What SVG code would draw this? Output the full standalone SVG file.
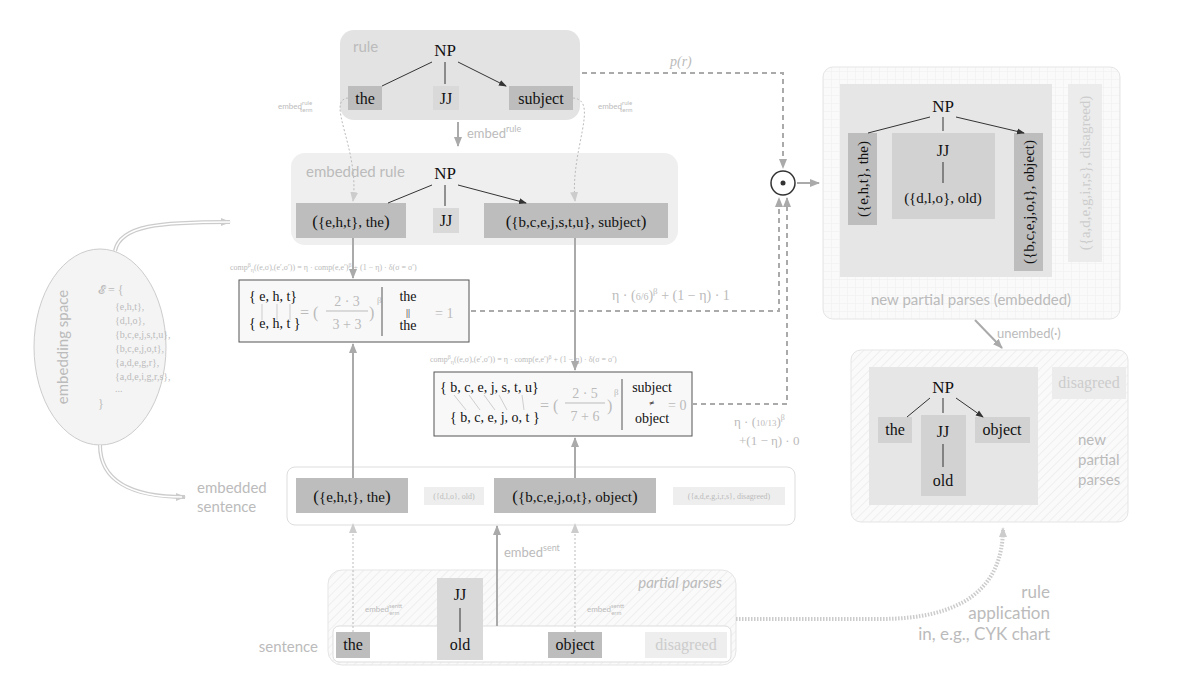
<svg xmlns="http://www.w3.org/2000/svg" width="1200" height="688" viewBox="0 0 1200 688">
<defs>
<marker id="ah" markerWidth="8" markerHeight="8" refX="7" refY="4" orient="auto" markerUnits="userSpaceOnUse"><path d="M0,1 L8,4 L0,7 z" fill="#333"/></marker>
<marker id="ag" markerWidth="10" markerHeight="10" refX="9" refY="5" orient="auto" markerUnits="userSpaceOnUse"><path d="M0,1 L10,5 L0,9 z" fill="#aaa"/></marker>
<marker id="agl" markerWidth="10" markerHeight="10" refX="9" refY="5" orient="auto" markerUnits="userSpaceOnUse"><path d="M0,1 L10,5 L0,9 z" fill="#ccc"/></marker>
<pattern id="hatch" width="6" height="6" patternUnits="userSpaceOnUse" patternTransform="rotate(45)"><rect width="6" height="6" fill="#fafafa"/><line x1="0" y1="0" x2="0" y2="6" stroke="#ececec" stroke-width="1.5"/></pattern>
<pattern id="grid" width="8" height="8" patternUnits="userSpaceOnUse"><rect width="8" height="8" fill="#fafafa"/><path d="M8,0 V8 M0,8 H8" stroke="#eeeeee" stroke-width="1"/></pattern>
</defs>
<style>
.s{font-family:"Liberation Serif","DejaVu Serif",serif;fill:#111}
.l{font-family:Lato,"Open Sans",sans-serif;fill:#bbb}
.g{font-family:"Liberation Serif",serif;fill:#bbb}
.dk{fill:#bdbdbd}.md{fill:#d6d6d6}.lt{fill:#ececec}
.edge{stroke:#333;stroke-width:1;fill:none;marker-end:url(#ah)}
.gl{stroke:#aaa;stroke-width:2;fill:none}
.dash{stroke:#aaa;stroke-width:2;fill:none;stroke-dasharray:5,4}
.dot{stroke:#bbb;stroke-width:1;fill:none;stroke-dasharray:2,2}
</style>
<rect width="1200" height="688" fill="#fff"/>

<g id="rule">
<rect x="340" y="30" width="240" height="90" rx="14" fill="#e3e3e3"/>
<text class="l" x="353" y="52" font-size="15">rule</text>
<text class="s" x="445" y="56" font-size="17" text-anchor="middle">NP</text>
<rect class="dk" x="348" y="86" width="34" height="24"/><text class="s" x="365" y="104" font-size="16" text-anchor="middle">the</text>
<rect x="433" y="86" width="26" height="24" fill="#d9d9d9"/><text class="s" x="446" y="104" font-size="16" text-anchor="middle">JJ</text>
<rect class="dk" x="509" y="86" width="64" height="24"/><text class="s" x="541" y="104" font-size="16" text-anchor="middle">subject</text>
</g>

<g id="embedded-rule">
<rect x="291" y="153" width="387" height="92" rx="14" fill="#efefef"/>
<text class="l" x="306" y="177" font-size="15">embedded rule</text>
<text class="s" x="445" y="179" font-size="17" text-anchor="middle">NP</text>
<rect class="dk" x="296" y="203" width="110" height="35"/><text class="s" x="351" y="227" font-size="17" text-anchor="middle">(<tspan font-size="15">{e,h,t}, the</tspan>)</text>
<rect x="433" y="208" width="26" height="25" fill="#d9d9d9"/><text class="s" x="446" y="226" font-size="16" text-anchor="middle">JJ</text>
<rect class="dk" x="484" y="203" width="184" height="35"/><text class="s" x="576" y="227" font-size="17" text-anchor="middle">(<tspan font-size="15">{b,c,e,j,s,t,u}, subject</tspan>)</text>
</g>

<g id="comp1">
<text class="g" x="230" y="270" font-size="8">comp<tspan font-size="6" dy="-3">β</tspan><tspan font-size="6" dy="5">η</tspan><tspan dy="-2">((e,σ),(e′,σ′)) = η · comp(e,e′)</tspan><tspan font-size="6" dy="-3">β</tspan><tspan dy="3"> + (1 − η) · δ(σ = σ′)</tspan></text>
<rect x="239" y="280" width="230" height="62" fill="#f8f8f8" stroke="#555" stroke-width="1"/>
<text class="s" x="249" y="301" font-size="14">{ e, h, t}</text>
<text class="s" x="249" y="328" font-size="14">{ e, h, t }</text>
<path d="M262,304 V320 M277,304 V320 M290,304 V320" stroke="#bbb" stroke-width="0.7"/>
<text class="g" x="300" y="318" font-size="16">= (</text>
<text class="g" x="347" y="306" font-size="14" text-anchor="middle">2 · 3</text>
<line x1="326" y1="311" x2="368" y2="311" stroke="#bbb"/>
<text class="g" x="347" y="329" font-size="14" text-anchor="middle">3 + 3</text>
<text class="g" x="369" y="318" font-size="16">)</text><text class="g" x="377" y="303" font-size="9">β</text>
<line x1="382" y1="287" x2="382" y2="336" stroke="#555"/>
<text class="s" x="408" y="301" font-size="14" text-anchor="middle">the</text>
<text class="s" x="408" y="316" font-size="10" text-anchor="middle">||</text>
<text class="s" x="408" y="330" font-size="14" text-anchor="middle">the</text>
<text class="g" x="435" y="318" font-size="14">= 1</text>
</g>

<g id="comp2">
<text class="g" x="430" y="362" font-size="8">comp<tspan font-size="6" dy="-3">β</tspan><tspan font-size="6" dy="5">η</tspan><tspan dy="-2">((e,σ),(e′,σ′)) = η · comp(e,e′)</tspan><tspan font-size="6" dy="-3">β</tspan><tspan dy="3"> + (1 − η) · δ(σ = σ′)</tspan></text>
<rect x="434" y="372" width="258" height="64" fill="#f8f8f8" stroke="#555" stroke-width="1"/>
<text class="s" x="440" y="392" font-size="14">{ b, c, e, j, s, t, u}</text>
<text class="s" x="450" y="422" font-size="14">{ b, c, e, j, o, t }</text>
<path d="M454,395 L466,410 M469,395 L480,410 M484,395 L495,410 M499,395 L507,410 M522,395 L524,410" stroke="#bbb" stroke-width="0.7"/>
<text class="g" x="540" y="411" font-size="16">= (</text>
<text class="g" x="585" y="398" font-size="14" text-anchor="middle">2 · 5</text>
<line x1="565" y1="403" x2="605" y2="403" stroke="#bbb"/>
<text class="g" x="585" y="421" font-size="14" text-anchor="middle">7 + 6</text>
<text class="g" x="607" y="411" font-size="16">)</text><text class="g" x="614" y="395" font-size="9">β</text>
<line x1="622" y1="379" x2="622" y2="430" stroke="#555"/>
<text class="s" x="652" y="392" font-size="14" text-anchor="middle">subject</text>
<text class="s" x="652" y="406" font-size="9" text-anchor="middle">≠</text>
<text class="s" x="652" y="423" font-size="14" text-anchor="middle">object</text>
<text class="g" x="668" y="410" font-size="14">= 0</text>
</g>

<g id="embedded-sentence">
<rect x="287" y="467" width="508" height="58" rx="8" fill="#fff" stroke="#ddd"/>
<rect class="dk" x="296" y="478" width="112" height="35"/><text class="s" x="352" y="502" font-size="17" text-anchor="middle">(<tspan font-size="15">{e,h,t}, the</tspan>)</text>
<rect x="424" y="487" width="60" height="18" fill="#eee"/><text class="g" x="454" y="499" font-size="8" text-anchor="middle">({d,l,o}, old)</text>
<rect class="dk" x="494" y="478" width="162" height="35"/><text class="s" x="575" y="502" font-size="17" text-anchor="middle">(<tspan font-size="15">{b,c,e,j,o,t}, object</tspan>)</text>
<rect x="673" y="487" width="112" height="18" fill="#eee"/><text class="g" x="729" y="499" font-size="8" text-anchor="middle">({a,d,e,g,i,r,s}, disagreed)</text>
<text class="l" x="197" y="493" font-size="15">embedded</text>
<text class="l" x="197" y="512" font-size="15">sentence</text>
</g>

<g id="partial-parses">
<rect x="328" y="570" width="408" height="95" rx="14" fill="url(#hatch)" stroke="#e5e5e5"/>
<text class="l" x="722" y="588" font-size="15" font-style="italic" text-anchor="end">partial parses</text>
<rect x="333" y="626" width="398" height="36" rx="6" fill="#fff" stroke="#ddd"/>
<rect class="dk" x="336" y="632" width="34" height="26"/><text class="s" x="353" y="650" font-size="16" text-anchor="middle">the</text>
<rect x="437" y="578" width="46" height="82" fill="#d9d9d9"/><text class="s" x="460" y="600" font-size="16" text-anchor="middle">JJ</text>
<line x1="460" y1="608" x2="460" y2="632" stroke="#333"/>
<text class="s" x="460" y="650" font-size="16" text-anchor="middle">old</text>
<rect class="dk" x="548" y="632" width="54" height="26"/><text class="s" x="575" y="650" font-size="16" text-anchor="middle">object</text>
<rect x="645" y="632" width="82" height="26" fill="#eee"/><text x="686" y="650" font-size="16" text-anchor="middle" font-family="Liberation Serif,serif" fill="#ccc">disagreed</text>
<text class="l" x="318" y="652" font-size="15" text-anchor="end">sentence</text>
</g>

<g id="embedding-space">
<ellipse cx="100" cy="347" rx="66" ry="98" fill="#f4f4f4" stroke="#ccc"/>
<text class="g" x="98" y="294" font-size="12">𝓔 = {</text>
<text class="g" x="115" y="310" font-size="10">{e,h,t},</text>
<text class="g" x="115" y="324" font-size="10">{d,l,o},</text>
<text class="g" x="115" y="338" font-size="10">{b,c,e,j,s,t,u},</text>
<text class="g" x="115" y="352" font-size="10">{b,c,e,j,o,t},</text>
<text class="g" x="115" y="366" font-size="10">{a,d,e,g,r},</text>
<text class="g" x="115" y="380" font-size="10">{a,d,e,i,g,r,s},</text>
<text class="g" x="115" y="392" font-size="10">...</text>
<text class="g" x="98" y="408" font-size="12">}</text>
<text class="l" x="68" y="347" font-size="15" text-anchor="middle" transform="rotate(-90 68 347)">embedding space</text>
</g>

<g id="odot">
<circle cx="783" cy="183" r="12" fill="#fff" stroke="#333" stroke-width="1.5"/>
<circle cx="783" cy="183" r="2.5" fill="#333"/>
</g>

<g id="new-embedded">
<rect x="823" y="67" width="297" height="252" rx="10" fill="url(#grid)" stroke="#e5e5e5"/>
<rect x="840" y="84" width="212" height="193" fill="#e6e6e6"/>
<text class="s" x="943" y="112" font-size="17" text-anchor="middle">NP</text>
<rect class="dk" x="848" y="133" width="29" height="92"/><text class="s" x="868" y="179" font-size="15" text-anchor="middle" transform="rotate(-90 868 179)">({e,h,t}, the)</text>
<rect x="892" y="133" width="103" height="86" fill="#d2d2d2"/><text class="s" x="943" y="156" font-size="16" text-anchor="middle">JJ</text>
<line x1="943" y1="162" x2="943" y2="183" stroke="#333"/>
<text class="s" x="943" y="203" font-size="15" text-anchor="middle">({d,l,o}, old)</text>
<rect class="dk" x="1014" y="133" width="29" height="138"/><text class="s" x="1034" y="202" font-size="15" text-anchor="middle" transform="rotate(-90 1034 202)">({b,c,e,j,o,t}, object)</text>
<rect x="1068" y="84" width="34" height="178" fill="#ececec"/><text x="1090" y="173" font-size="15" text-anchor="middle" font-family="Liberation Serif,serif" fill="#ccc" transform="rotate(-90 1090 173)">({a,d,e,g,i,r,s}, disagreed)</text>
<text class="l" x="971" y="305" font-size="15" text-anchor="middle">new partial parses (embedded)</text>
</g>

<g id="new-parses">
<rect x="851" y="350" width="277" height="172" rx="10" fill="url(#hatch)" stroke="#e5e5e5"/>
<rect x="869" y="367" width="169" height="138" fill="#e6e6e6"/>
<text class="s" x="943" y="393" font-size="17" text-anchor="middle">NP</text>
<rect x="878" y="417" width="34" height="26" fill="#d2d2d2"/><text class="s" x="895" y="435" font-size="16" text-anchor="middle">the</text>
<rect x="921" y="415" width="45" height="81" fill="#d2d2d2"/><text class="s" x="943" y="437" font-size="16" text-anchor="middle">JJ</text>
<line x1="943" y1="444" x2="943" y2="467" stroke="#333"/>
<text class="s" x="943" y="486" font-size="16" text-anchor="middle">old</text>
<rect x="975" y="417" width="55" height="26" fill="#d2d2d2"/><text class="s" x="1002" y="435" font-size="16" text-anchor="middle">object</text>
<rect x="1052" y="367" width="74" height="32" fill="#ececec"/><text x="1089" y="388" font-size="16" text-anchor="middle" font-family="Liberation Serif,serif" fill="#ccc">disagreed</text>
<text class="l" x="1078" y="445" font-size="15">new</text>
<text class="l" x="1078" y="465" font-size="15">partial</text>
<text class="l" x="1078" y="485" font-size="15">parses</text>
</g>

<g id="connectors">
<!-- rule trees -->
<path class="edge" d="M432,62 L382,86 M445,62 L445,84 M458,62 L506,86"/>
<path class="edge" d="M432,185 L388,203 M445,185 L445,206 M458,185 L526,203"/>
<path class="edge" d="M930,117 L868,133 M943,117 L943,131 M956,117 L1024,133"/>
<path class="edge" d="M930,398 L907,417 M943,398 L943,413 M956,398 L983,417"/>
<!-- embed rule -->
<path class="gl" d="M458,122 V146" marker-end="url(#ag)"/>
<text class="l" x="467" y="138" font-size="13">embed<tspan font-size="9" dy="-6">rule</tspan></text>
<!-- embed term rule dotted -->
<path class="dot" d="M348,98 C325,100 360,150 353,201" marker-end="url(#agl)"/>
<path class="dot" d="M573,98 C600,100 570,150 575,201" marker-end="url(#agl)"/>
<text class="l" x="278" y="109" font-size="8">embed<tspan font-size="6" dy="-4">rule</tspan><tspan font-size="6" dx="-12" dy="7">term</tspan></text>
<text class="l" x="598" y="109" font-size="8">embed<tspan font-size="6" dy="-4">rule</tspan><tspan font-size="6" dx="-12" dy="7">term</tspan></text>
<!-- verticals -->
<path class="gl" d="M353,238 V278" marker-end="url(#ag)"/>
<path class="gl" d="M353,478 V344" marker-end="url(#ag)"/>
<path class="gl" d="M575,238 V370" marker-end="url(#ag)"/>
<path class="gl" d="M575,478 V438" marker-end="url(#ag)"/>
<!-- sentence up -->
<path class="dot" d="M353,632 V524" marker-end="url(#agl)"/>
<path class="dot" d="M575,632 V524" marker-end="url(#agl)"/>
<path class="gl" d="M497,626 V526" marker-end="url(#ag)"/>
<text class="l" x="504" y="557" font-size="13">embed<tspan font-size="9" dy="-6">sent</tspan></text>
<text class="l" x="365" y="612" font-size="8">embed<tspan font-size="6" dy="-4">sent</tspan><tspan font-size="6" dx="-13" dy="7">term</tspan></text>
<text class="l" x="587" y="612" font-size="8">embed<tspan font-size="6" dy="-4">sent</tspan><tspan font-size="6" dx="-13" dy="7">term</tspan></text>
<!-- embedding space curves -->
<path d="M115,251 C120,225 160,222 230,222" stroke="#ccc" stroke-width="4" fill="none" marker-end="url(#agl)"/>
<path d="M115,251 C120,225 160,222 230,222" stroke="#fff" stroke-width="1.5" fill="none"/>
<path d="M100,445 C100,480 130,497 185,497" stroke="#ccc" stroke-width="4" fill="none" marker-end="url(#agl)"/>
<path d="M100,445 C100,480 130,497 182,497" stroke="#fff" stroke-width="1.5" fill="none"/>
<!-- dashed to odot -->
<path class="dash" d="M582,73 H783 V168" marker-end="url(#ag)"/>
<text class="g" x="670" y="66" font-size="14" font-style="italic">p(r)</text>
<path class="dash" d="M471,311 H779 V198" marker-end="url(#ag)"/>
<text class="g" x="612" y="300" font-size="14">η · (<tspan font-size="10">6/6</tspan>)<tspan font-size="9" dy="-6">β</tspan><tspan dy="6"> + (1 − η) · 1</tspan></text>
<path class="dash" d="M692,404 H787 V198" marker-end="url(#ag)"/>
<text class="g" x="734" y="426" font-size="13">η · (<tspan font-size="9">10/13</tspan>)<tspan font-size="8" dy="-6">β</tspan></text>
<text class="g" x="739" y="445" font-size="13">+(1 − η) · 0</text>
<path class="gl" d="M797,183 H819" marker-end="url(#ag)"/>
<!-- unembed -->
<path class="gl" d="M975,320 L1002,348" marker-end="url(#ag)"/>
<text class="l" x="997" y="338" font-size="13">unembed(·)</text>
<!-- rule application -->
<path d="M736,619 H880 C960,619 1003,590 1003,528" stroke="#ccc" stroke-width="4" fill="none" stroke-dasharray="1.5,1.5" marker-end="url(#agl)"/>
<text class="l" x="1050" y="598" font-size="17" text-anchor="end" fill="#ccc">rule</text>
<text class="l" x="1050" y="619" font-size="17" text-anchor="end">application</text>
<text class="l" x="1050" y="640" font-size="17" text-anchor="end">in, e.g., CYK chart</text>
</g>
</svg>
